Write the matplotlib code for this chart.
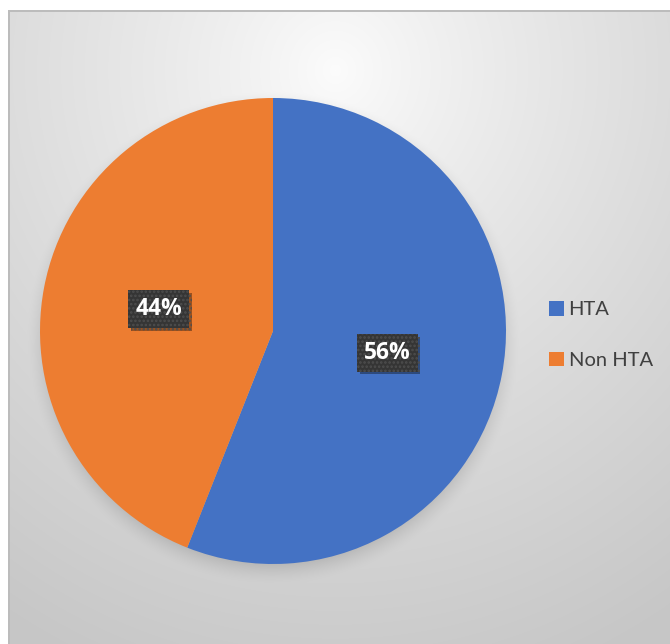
import numpy as np
import matplotlib
matplotlib.use("Agg")
import matplotlib.pyplot as plt
import matplotlib.patheffects as pe

# Data
categories = ["HTA", "Non HTA"]
shares = [56, 44]
colors = ["#4472C4", "#ED7D31"]

W, H = 670, 644
fig = plt.figure(figsize=(W / 100, H / 100), dpi=100)

# ---- background: framed chart area with a soft radial gradient and pie shadow ----
yy, xx = np.mgrid[0:H, 0:W].astype(float)
cx, cy = 335.0, 70.0
d = np.hypot(xx - cx, (yy - cy) * 0.95)
t = np.clip(d / 620.0, 0, 1) ** 0.85
light, dark = 252.0, 198.0
bg = light - t * (light - dark)

# pie centre/radius in pixels (top-left origin)
pcx, pcy, R = 273.0, 331.0, 233.0
ds = np.hypot(xx - pcx, yy - (pcy + 6))
shadow = np.clip((R + 14 - ds) / 28.0, 0, 1) ** 1.5
bg = bg - shadow * 40

img = np.stack([bg, bg, bg], axis=-1) / 255.0
# white margin outside the chart area and a thin grey frame
x0, y0 = 9, 11
img[:y0, :, :] = 1.0
img[:, :x0, :] = 1.0
img[y0 - 1:y0 + 1, x0 - 1:, :] = 0.74
img[y0 - 1:, x0 - 1:x0 + 1, :] = 0.74

bax = fig.add_axes([0, 0, 1, 1])
bax.imshow(img, extent=(0, W, H, 0), interpolation="bilinear")
bax.set_xlim(0, W)
bax.set_ylim(H, 0)
bax.axis("off")

# ---- pie ----
ax = fig.add_axes([(pcx - R) / W, (H - pcy - R) / H, 2 * R / W, 2 * R / H])
ax.patch.set_alpha(0)
wedges, texts, autotexts = ax.pie(
    shares,
    colors=colors,
    startangle=90,
    counterclock=False,
    radius=1.0,
    autopct=lambda p: f"{p:.0f}%",
    pctdistance=0.5,
    wedgeprops=dict(linewidth=0),
    textprops=dict(color="white", fontsize=16.5, fontweight="bold", family="Open Sans"),
)
ax.set_xlim(-1, 1)
ax.set_ylim(-1, 1)

plt.rcParams["hatch.linewidth"] = 1.2
for at in autotexts:
    at.set_bbox(dict(boxstyle="square,pad=0.3", facecolor="#353535",
                     edgecolor="#4e4e4e", hatch="....", linewidth=0))
    at.get_bbox_patch().set_path_effects(
        [pe.SimplePatchShadow(offset=(2, -2), shadow_rgbFace="black", alpha=0.35), pe.Normal()])

# ---- legend ----
leg = ax.legend(
    wedges, categories,
    loc="center left",
    bbox_to_anchor=(549 / W, (H - 335) / H),
    bbox_transform=fig.transFigure,
    frameon=False,
    handlelength=0.72, handleheight=0.72, handletextpad=0.25,
    labelspacing=1.65,
    prop=dict(family="Lato", size=14.5),
    labelcolor="#404040",
    borderpad=0, borderaxespad=0,
)

fig.savefig("out.png", dpi=100)
